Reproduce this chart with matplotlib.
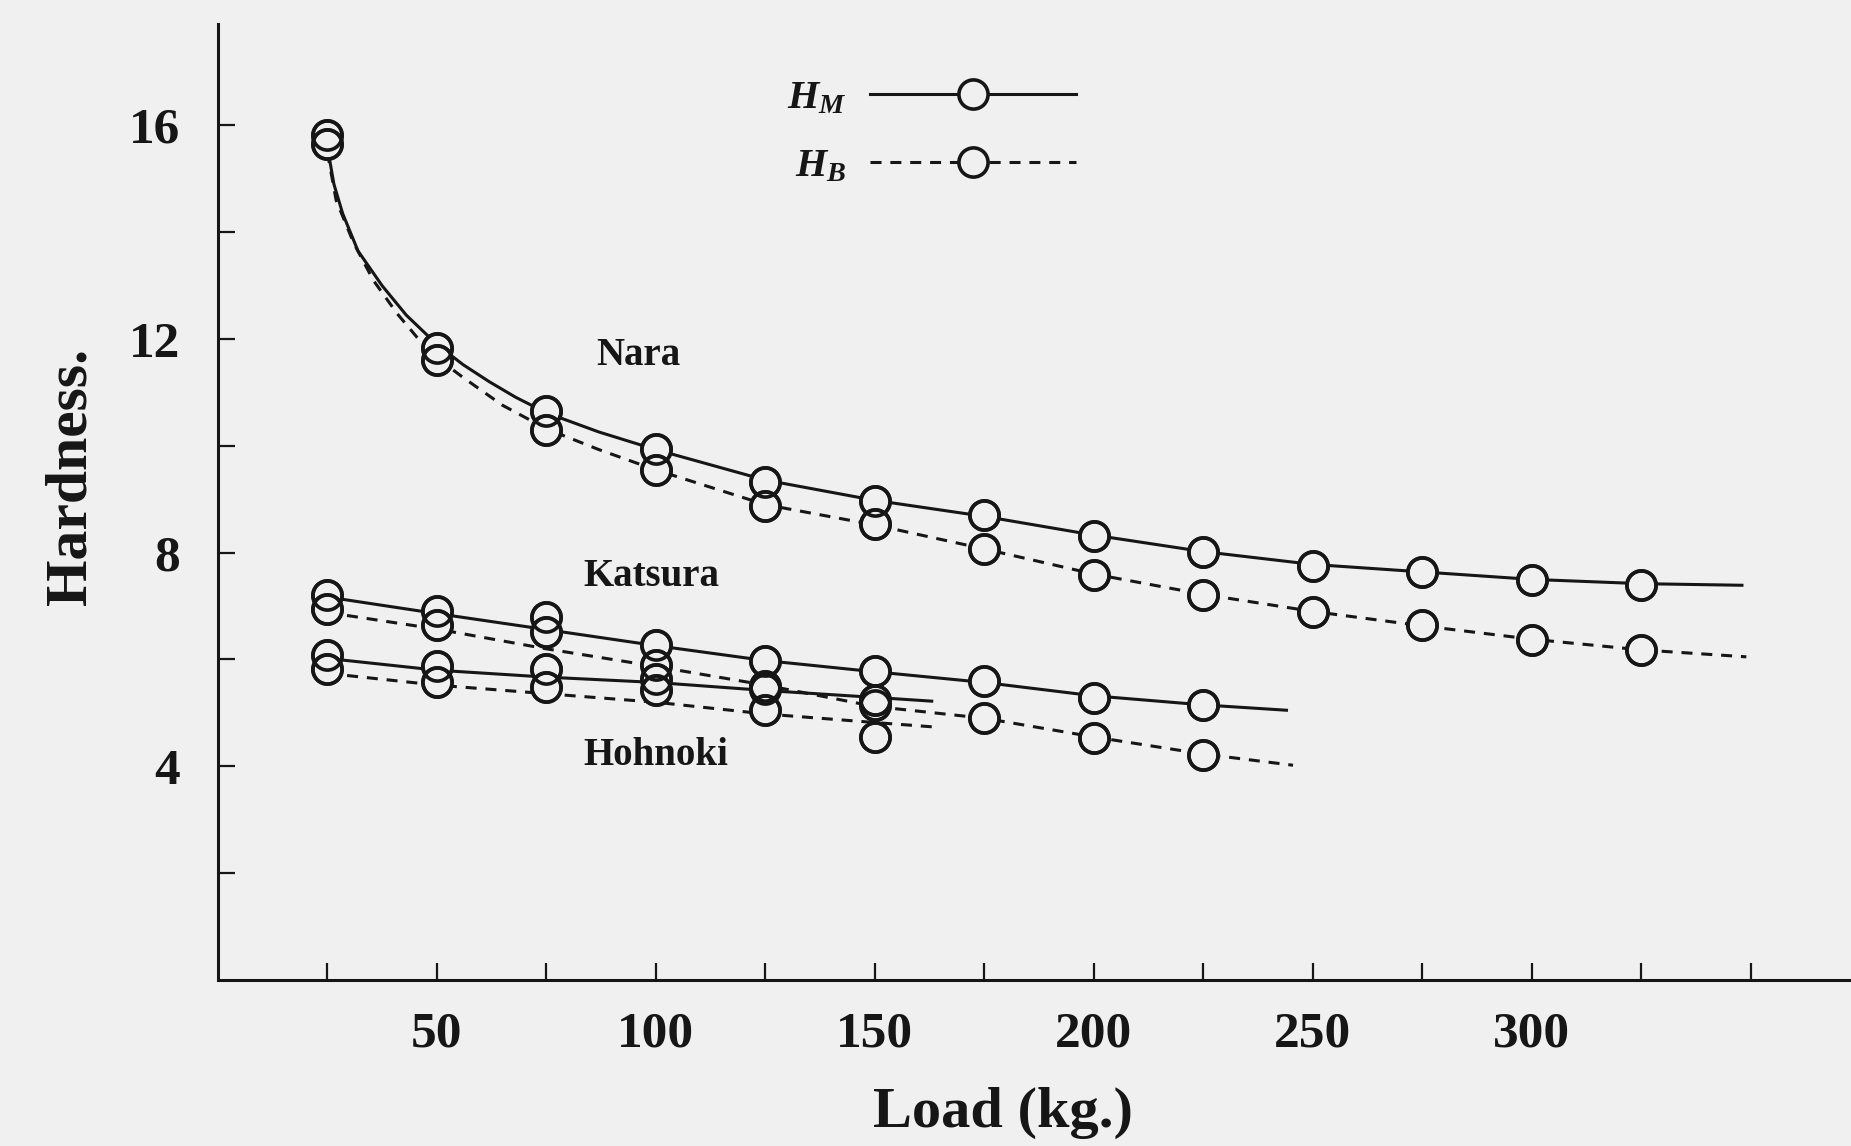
import matplotlib
matplotlib.use("Agg")
import matplotlib.pyplot as plt
from matplotlib.lines import Line2D

plt.rcParams["font.family"] = "Liberation Serif"
plt.rcParams["mathtext.fontset"] = "custom"
plt.rcParams["mathtext.it"] = "Liberation Serif:italic:bold"
plt.rcParams["mathtext.rm"] = "Liberation Serif:bold"

# --- measured points (load in kg, hardness) ---
nara_loads = [25, 50, 75, 100, 125, 150, 175, 200, 225, 250, 275, 300, 325]
nara_hm = [15.83, 11.84, 10.66, 9.94, 9.32, 8.97, 8.70, 8.32, 8.01, 7.76, 7.64, 7.49, 7.40]
nara_hb = [15.66, 11.60, 10.30, 9.54, 8.88, 8.53, 8.07, 7.58, 7.21, 6.89, 6.64, 6.37, 6.18]

katsura_loads = [25, 50, 75, 100, 125, 150, 175, 200, 225]
katsura_hm = [7.20, 6.90, 6.79, 6.28, 5.97, 5.79, 5.60, 5.27, 5.14]
katsura_hb = [6.95, 6.64, 6.51, 5.90, 5.50, 5.14, 4.90, 4.53, 4.22]

hohnoki_loads = [25, 50, 75, 100, 125, 150]
hohnoki_hm = [6.08, 5.87, 5.83, 5.63, 5.45, 5.24]
hohnoki_hb = [5.83, 5.58, 5.48, 5.42, 5.05, 4.55]

# --- hand-drawn smoothing curves ---
nara_hm_curve_x = [25, 26.5, 28.5, 32, 37.5, 43, 50, 56, 62, 68, 75, 87, 100, 125, 150, 175, 200, 225, 250, 275, 300, 325, 348]
nara_hm_curve_y = [15.6, 14.9, 14.35, 13.65, 13.0, 12.45, 11.9, 11.52, 11.2, 10.91, 10.62, 10.26, 9.93, 9.36, 8.98, 8.68, 8.33, 8.02, 7.78, 7.64, 7.5, 7.42, 7.39]
nara_hb_curve_x = [25, 27, 31, 35.5, 41, 45.5, 50, 56, 65, 75, 87, 100, 125, 150, 175, 200, 225, 250, 275, 300, 325, 349]
nara_hb_curve_y = [15.5, 14.6, 13.8, 13.1, 12.47, 12.03, 11.65, 11.28, 10.76, 10.32, 9.93, 9.55, 8.9, 8.52, 8.07, 7.6, 7.22, 6.9, 6.63, 6.38, 6.18, 6.05]

katsura_hm_curve_x = [25, 50, 75, 100, 125, 150, 175, 200, 225, 244]
katsura_hm_curve_y = [7.17, 6.86, 6.56, 6.26, 5.98, 5.77, 5.57, 5.32, 5.15, 5.05]
katsura_hb_curve_x = [25, 50, 75, 100, 125, 150, 175, 200, 225, 245.5]
katsura_hb_curve_y = [6.88, 6.57, 6.2, 5.87, 5.52, 5.12, 4.9, 4.55, 4.23, 4.02]

hohnoki_hm_curve_x = [25, 50, 75, 100, 125, 150, 163]
hohnoki_hm_curve_y = [6.02, 5.8, 5.67, 5.57, 5.42, 5.29, 5.22]
hohnoki_hb_curve_x = [25, 50, 75, 100, 125, 150, 163]
hohnoki_hb_curve_y = [5.74, 5.52, 5.36, 5.2, 4.98, 4.82, 4.74]

x_major = [50, 100, 150, 200, 250, 300]
x_minor = [25, 75, 125, 175, 225, 275, 325, 350]
y_major = [4, 8, 12, 16]
y_minor = [2, 6, 10, 14]

BG = "#f0f0f0"
INK = "#161616"
LW = 2.2
MEW = 2.6
DASH = (3.6, 2.9)

fig = plt.figure(figsize=(18.51, 11.46), dpi=100, facecolor=BG)
ax = fig.add_axes([0.1177, 0.1449, 0.8823, 0.8342], facecolor=BG)

curves = [
    (nara_hm_curve_x, nara_hm_curve_y, "-"),
    (nara_hb_curve_x, nara_hb_curve_y, "--"),
    (katsura_hm_curve_x, katsura_hm_curve_y, "-"),
    (katsura_hb_curve_x, katsura_hb_curve_y, "--"),
    (hohnoki_hm_curve_x, hohnoki_hm_curve_y, "-"),
    (hohnoki_hb_curve_x, hohnoki_hb_curve_y, "--"),
]
for cx, cy, ls in curves:
    if ls == "-":
        ax.plot(cx, cy, color=INK, lw=LW, zorder=2)
    else:
        ax.plot(cx, cy, color=INK, lw=LW, dashes=DASH, zorder=2)

points = [
    (nara_loads, nara_hm), (nara_loads, nara_hb),
    (katsura_loads, katsura_hm), (katsura_loads, katsura_hb),
    (hohnoki_loads, hohnoki_hm), (hohnoki_loads, hohnoki_hb),
]
# filled pass hides the lines inside the rings, outline pass keeps every ring visible
for px, py in points:
    ax.plot(px, py, "o", ms=21, mfc=BG, mec=INK, mew=MEW, zorder=3)
for px, py in points:
    ax.plot(px, py, "o", ms=21, mfc="none", mec=INK, mew=MEW, zorder=4)

ax.text(96, 11.7, "Nara", fontsize=28, fontweight="bold", ha="center", va="center", color=INK)
ax.text(99, 7.55, "Katsura", fontsize=28, fontweight="bold", ha="center", va="center", color=INK)
ax.text(100, 4.2, "Hohnoki", fontsize=28, fontweight="bold", ha="center", va="center", color=INK)

ax.set_xlim(0, 372.9)
ax.set_ylim(0, 17.9)
for s in ["top", "right"]:
    ax.spines[s].set_visible(False)
for s in ["left", "bottom"]:
    ax.spines[s].set_linewidth(2.2)
    ax.spines[s].set_color(INK)

ax.set_xticks(x_major)
ax.set_xticks(x_minor, minor=True)
ax.set_yticks(y_major)
ax.set_yticks(y_minor, minor=True)
ax.tick_params(which="both", direction="in", length=12, width=1.6, color=INK)
ax.tick_params(axis="x", which="major", pad=23, labelsize=37, labelcolor=INK)
ax.tick_params(axis="y", which="major", pad=27, labelsize=37, labelcolor=INK)
for lab in ax.get_xticklabels() + ax.get_yticklabels():
    lab.set_fontweight("bold")

ax.set_xlabel("Load (kg.)", fontsize=42, fontweight="bold", color=INK)
ax.xaxis.set_label_coords(0.481, -0.112)
ax.set_ylabel("Hardness.", fontsize=43, fontweight="bold", color=INK)
ax.yaxis.set_label_coords(-0.073, 0.527)

handles = [
    Line2D([], [], color=INK, lw=LW, marker="o", ms=21, mfc=BG, mec=INK, mew=MEW),
    Line2D([], [], color=INK, lw=LW, dashes=DASH, marker="o", ms=21, mfc=BG, mec=INK, mew=MEW),
]
ax.legend(handles, [r"$H_M$", r"$H_B$"], loc="upper left", bbox_to_anchor=(0.326, 0.979),
          frameon=False, markerfirst=False, numpoints=1, handlelength=5.1,
          handletextpad=0.6, labelspacing=0.75, fontsize=29, labelcolor=INK)

fig.savefig("out.png", dpi=100, facecolor=BG)
